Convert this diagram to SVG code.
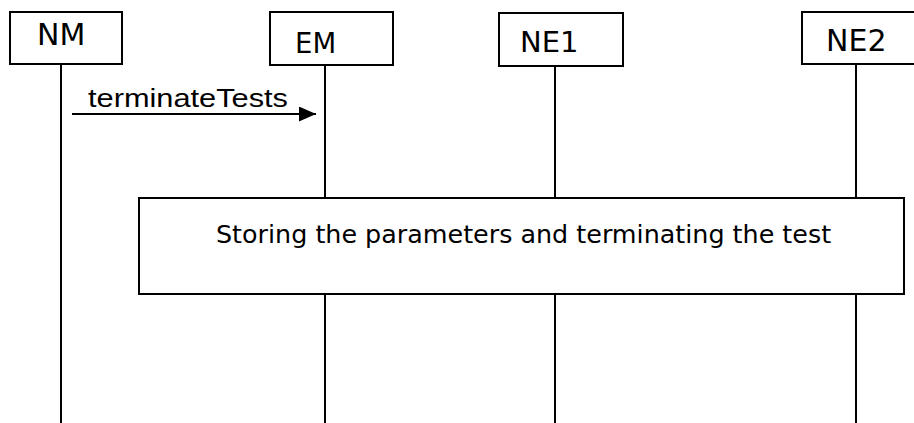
<svg xmlns="http://www.w3.org/2000/svg" width="914" height="423" viewBox="0 0 914 423">
<style>
.box{fill:#fff;stroke:#000;stroke-width:2}
.life{stroke:#000;stroke-width:2;fill:none}
.lbl{font-family:"DejaVu Sans",Verdana,sans-serif;fill:#000}
.msg{font-family:"Liberation Sans",Arial,sans-serif;fill:#000}
</style>
<defs>
<marker id="ah" viewBox="0 0 17 15" refX="17" refY="7.5" markerWidth="17" markerHeight="15" markerUnits="userSpaceOnUse" orient="auto">
<path d="M0,0 L17,7.5 L0,15 Z" fill="#000"/>
</marker>
</defs>
<rect width="914" height="423" fill="#fff"/>
<g id="lifelines">
<line class="life" x1="61" y1="64" x2="61" y2="423"/>
<line class="life" x1="325" y1="65" x2="325" y2="423"/>
<line class="life" x1="555" y1="66" x2="555" y2="423"/>
<line class="life" x1="856" y1="64" x2="856" y2="423"/>
</g>
<g id="NM">
<rect class="box" x="10" y="12" width="112" height="52"/>
<text class="lbl" x="37" y="45" font-size="30">NM</text>
</g>
<g id="EM">
<rect class="box" x="270" y="12" width="123" height="53"/>
<text class="lbl" x="295" y="53" font-size="27.5">EM</text>
</g>
<g id="NE1">
<rect class="box" x="499" y="13" width="124" height="53"/>
<text class="lbl" x="520" y="52" font-size="29">NE1</text>
</g>
<g id="NE2">
<rect class="box" x="802" y="12" width="120" height="52"/>
<text class="lbl" x="826" y="51" font-size="30">NE2</text>
</g>
<g id="connectors">
<line x1="72" y1="114" x2="316" y2="114" stroke="#000" stroke-width="2" marker-end="url(#ah)"/>
<text class="msg" x="88" y="107" font-size="26" textLength="200" lengthAdjust="spacingAndGlyphs">terminateTests</text>
</g>
<g id="process">
<rect class="box" x="139" y="198" width="765" height="96"/>
<text class="lbl" x="216" y="243" font-size="25.4">Storing the parameters and terminating the test</text>
</g>
</svg>
